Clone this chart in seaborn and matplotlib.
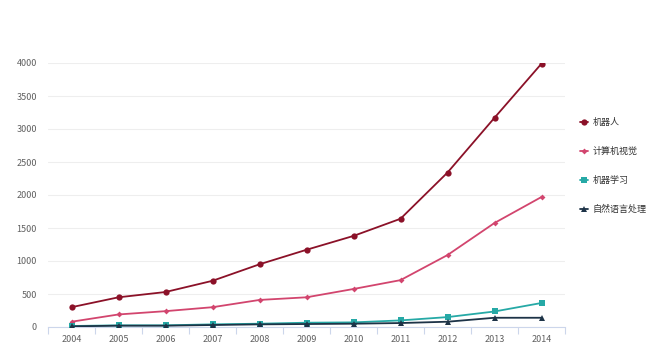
import matplotlib
matplotlib.use("Agg")
import matplotlib.pyplot as plt
from matplotlib.ticker import FixedLocator
from matplotlib.lines import Line2D
import seaborn as sns
import pandas as pd

years = ["2004", "2005", "2006", "2007", "2008", "2009", "2010", "2011", "2012", "2013", "2014"]
robot = [300, 450, 530, 700, 950, 1170, 1380, 1640, 2340, 3170, 3990]
vision = [80, 190, 240, 300, 410, 450, 576, 710, 1090, 1576, 1970]
ml = [15, 25, 25, 40, 50, 65, 70, 100, 150, 235, 364]
nlp = [10, 20, 20, 30, 40, 45, 50, 60, 80, 140, 140]
series_names = ["机器人", "计算机视觉", "机器学习", "自然语言处理"]

sns.set_theme(style="white")
plt.rcParams['font.family'] = ['Noto Sans CJK SC', 'DejaVu Sans']

rows = []
for name, vals in zip(series_names, [robot, vision, ml, nlp]):
    for i, (y, v) in enumerate(zip(years, vals)):
        rows.append({"idx": i, "year": y, "value": v, "series": name})
df = pd.DataFrame(rows)

colors = {"机器人": "#8b1128", "计算机视觉": "#d2456e", "机器学习": "#26a9a6", "自然语言处理": "#1d3347"}
markers = {"机器人": "o", "计算机视觉": "D", "机器学习": "s", "自然语言处理": "^"}
msizes = {"机器人": 4.5, "计算机视觉": 3.0, "机器学习": 4.5, "自然语言处理": 4.5}

fig = plt.figure(figsize=(6.5, 3.55), dpi=100)
ax = fig.add_axes([48/650, 28/355, (565-48)/650, (327-63)/355])

sns.lineplot(data=df, x="idx", y="value", hue="series", style="series",
             palette=colors, markers=markers, dashes=False, linewidth=1.3,
             markeredgewidth=0, ax=ax, legend=False, zorder=3)
for line, name in zip(ax.get_lines(), series_names):
    line.set_markersize(msizes[name])

ax.set_xlim(-0.5, 10.5)
ax.set_ylim(0, 4000)
ax.set_yticks(range(0, 4001, 500))
ax.set_xticks(range(len(years)))
ax.set_xticklabels(years)
ax.xaxis.set_minor_locator(FixedLocator([i - 0.5 for i in range(len(years) + 1)]))
ax.tick_params(axis="x", which="major", length=0, labelsize=6.5, colors="#606060", pad=6)
ax.tick_params(axis="x", which="minor", length=5, width=0.8, color="#ccd6eb", bottom=True)
ax.tick_params(axis="y", length=0, labelsize=6.5, colors="#606060", pad=8)
ax.set_xlabel("")
ax.set_ylabel("")
ax.grid(axis="y", color="#eeeeee", linewidth=0.8, zorder=0)
for s in ["top", "right", "left"]:
    ax.spines[s].set_visible(False)
ax.spines["bottom"].set_color("#ccd6eb")
ax.spines["bottom"].set_linewidth(0.8)

handles = [Line2D([0], [0], color=colors[n], marker=markers[n], markersize=msizes[n],
                  markeredgewidth=0, linewidth=1.3) for n in series_names]
fig.legend(handles, series_names, loc="upper left", bbox_to_anchor=(572/650, 1 - 110/355),
           frameon=False, fontsize=6.5, handlelength=0.9, handletextpad=0.5,
           labelspacing=2.2, labelcolor="#333333")

fig.savefig("out.png", dpi=100)
